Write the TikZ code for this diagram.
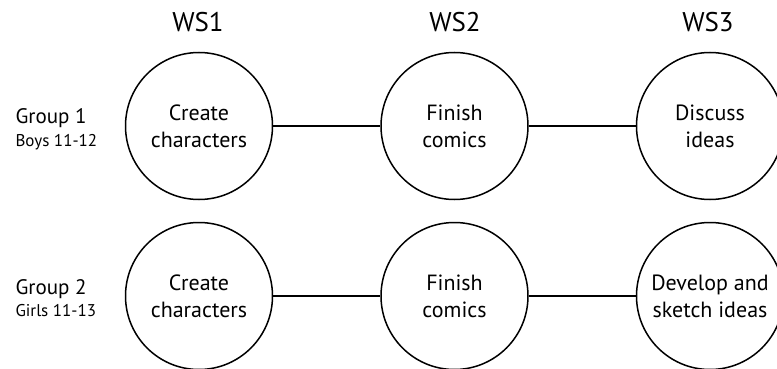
\documentclass[tikz,border=0pt]{standalone}
\usepackage{fontspec}
\setmainfont{PT Sans}
\begin{document}
\begin{tikzpicture}[x=1pt,y=-1pt,
	ws/.style={circle,draw,line width=1.5pt,minimum size=147pt,inner sep=0pt,align=center,font=\fontsize{22}{27}\selectfont},
	head/.style={anchor=base,font=\fontsize{27}{30}\selectfont},
	grp/.style={anchor=base west,font=\fontsize{21}{24}\selectfont},
	sub/.style={anchor=base west,font=\fontsize{17}{20}\selectfont}]
	\useasboundingbox (0,0) rectangle (777,369);
	% column heads
	\node[head] (h1) at (198,31.5) {WS1};
	\node[head] (h2) at (455,31.5) {WS2};
	\node[head] (h3) at (708,31.5) {WS3};
	% group labels
	\node[grp] (g1) at (12,123) {Group 1};
	\node[sub] (b1) at (12,146.5) {Boys 11-12};
	\node[grp] (g2) at (12,294.5) {Group 2};
	\node[sub] (b2) at (12,316.5) {Girls 11-13};
	% group 1
	\node[ws] (a1) at (199,126) {Create\\characters};
	\node[ws] (a2) at (454.5,126) {Finish\\comics};
	\node[ws] (a3) at (710,126) {Discuss\\ideas};
	% group 2
	\node[ws] (b1c) at (199,296) {Create\\characters};
	\node[ws] (b2c) at (454.5,296) {Finish\\comics};
	\node[ws] (b3c) at (710,296) {Develop and\\sketch ideas};
	\draw[line width=1.5pt] (a1)--(a2) (a2)--(a3);
	\draw[line width=1.5pt] (b1c)--(b2c) (b2c)--(b3c);
\end{tikzpicture}
\end{document}
